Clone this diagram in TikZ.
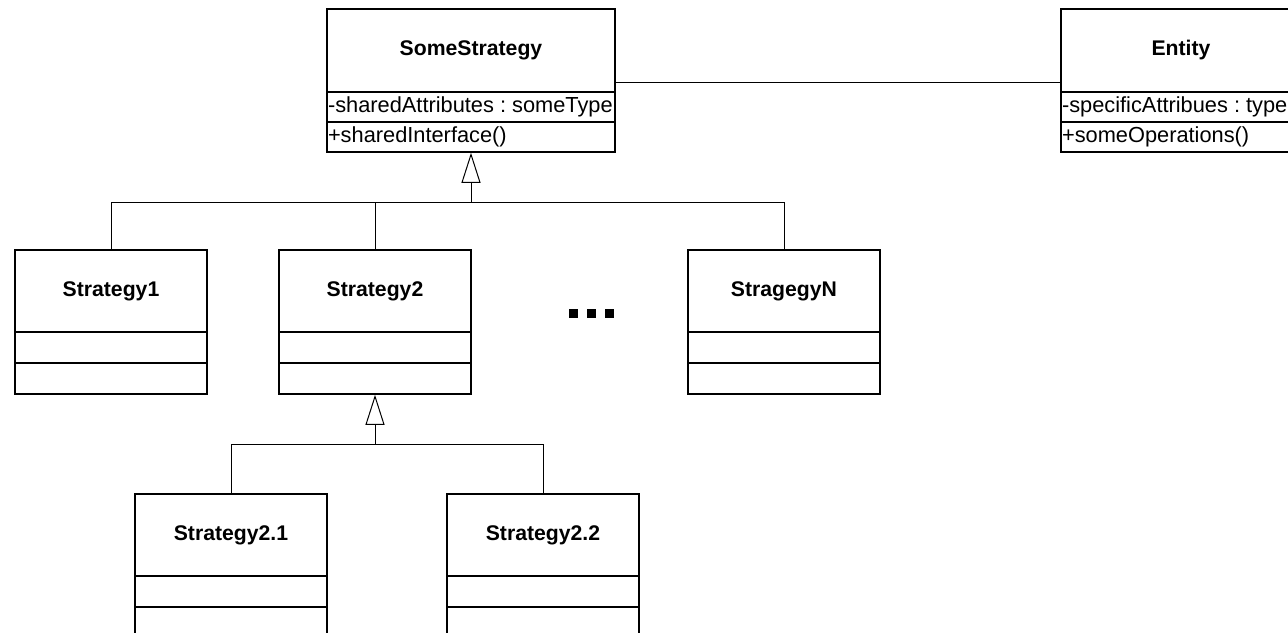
\documentclass[tikz,border=0pt]{standalone}
\usepackage{fontspec}
\setmainfont{Liberation Sans}
\usetikzlibrary{arrows.meta}
\frenchspacing

\tikzset{
  classhead/.style={draw,line width=0.8pt,inner sep=0pt,minimum width=#1,minimum height=41pt,font=\fontsize{10.6}{12}\selectfont\bfseries},
  classrow/.style={draw,line width=0.8pt,inner xsep=0.5pt,inner ysep=0pt,text width=#1,minimum height=15.5pt,align=flush left,font=\fontsize{10.9}{12}\selectfont},
  link/.style={line width=0.5pt},
  inherit/.style={line width=0.5pt,-{Triangle[open,length=15pt,width=9.5pt]}},
}

\begin{document}
\begin{tikzpicture}[x=0.5pt,y=-0.5pt,line join=miter]
 \useasboundingbox (0,0) rectangle (1288,632);

 \node (some_h) at (471,50.5) [classhead=144pt,minimum height=41.5pt] {SomeStrategy};
 \node (some_a) at (471,107) [classrow=143pt,minimum height=15pt] {-sharedAttributes : someType};
 \node (some_o) at (471,137) [classrow=143pt,minimum height=15pt] {+sharedInterface()};

 \node (ent_h) at (1181,50.5) [classhead=120pt,minimum height=41.5pt] {Entity};
 \node (ent_a) at (1181,107) [classrow=119pt,minimum height=15pt] {-specificAttribues : type};
 \node (ent_o) at (1181,137) [classrow=119pt,minimum height=15pt] {+someOperations()};

 \node (s1_h) at (111,291) [classhead=96pt] {Strategy1};
 \node (s1_a) at (111,347.5) [classrow=95pt] {};
 \node (s1_o) at (111,378.5) [classrow=95pt] {};

 \node (s2_h) at (375,291) [classhead=96pt] {Strategy2};
 \node (s2_a) at (375,347.5) [classrow=95pt] {};
 \node (s2_o) at (375,378.5) [classrow=95pt] {};

 \node (sn_h) at (784,291) [classhead=96pt] {StragegyN};
 \node (sn_a) at (784,347.5) [classrow=95pt] {};
 \node (sn_o) at (784,378.5) [classrow=95pt] {};

 \node (s21_h) at (231,535) [classhead=96pt] {Strategy2.1};
 \node (s21_a) at (231,591.5) [classrow=95pt] {};
 \node (s21_o) at (231,622.5) [classrow=95pt] {};

 \node (s22_h) at (543,535) [classhead=96pt] {Strategy2.2};
 \node (s22_a) at (543,591.5) [classrow=95pt] {};
 \node (s22_o) at (543,622.5) [classrow=95pt] {};

 % the dots between Strategy2 and StragegyN
 \foreach \k in {0,1,2}
   \fill (569+18*\k,309) rectangle ++(9,9);

 \coordinate (fork1) at (471,202);
 \coordinate (fork2) at (375,444);

  \draw [link] ([yshift=5pt]some_h.south east) -- ([yshift=5pt]ent_h.south west);
  \draw [link] (s1_h.north) |- (fork1);
  \draw [link] (s2_h.north) |- (fork1);
  \draw [link] (sn_h.north) |- (fork1);
  \draw [inherit] (fork1) -- (some_o.south);
  \draw [link] (s21_h.north) |- (fork2);
  \draw [link] (s22_h.north) |- (fork2);
  \draw [inherit] (fork2) -- (s2_o.south);
\end{tikzpicture}
\end{document}
